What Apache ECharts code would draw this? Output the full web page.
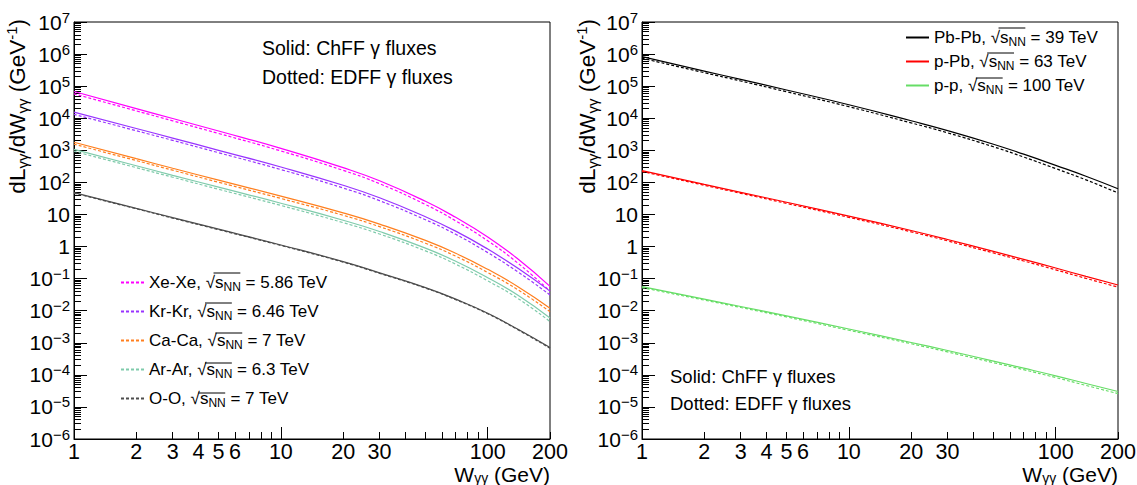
<!DOCTYPE html>
<html>
<head>
<meta charset="utf-8">
<script src="https://cdn.jsdelivr.net/npm/echarts@6.0.0/dist/echarts.min.js"></script>
<style>
html,body{margin:0;padding:0;background:#ffffff;}
#chart{width:1137px;height:485px;}
</style>
</head>
<body>
<div id="chart"></div>
<script>
// Photon-photon invariant mass W (GeV) sample points
const W = [1, 2, 3, 5, 10, 20, 30, 50, 70, 100, 140, 200];

// Left panel (solid = ChFF, dotted = EDFF), dL/dW in GeV^-1
const xeXeChFF = [6.8e4, 2.0e4, 9.8e3, 4.0e3, 1.15e3, 288, 112, 25.7, 8.13, 2.0, 0.407, 0.0575];
const xeXeEDFF = [5.75e4, 1.7e4, 8.3e3, 3.35e3, 955, 237, 91.2, 20.4, 6.31, 1.51, 0.302, 0.0407];
const krKrChFF = [1.55e4, 4.79e3, 2.40e3, 1.0e3, 302, 81.3, 33.1, 8.51, 3.02, 0.832, 0.209, 0.0407];
const krKrEDFF = [1.32e4, 4.07e3, 2.04e3, 841, 251, 66.8, 26.9, 6.84, 2.40, 0.646, 0.162, 0.0309];
const caCaChFF = [1.78e3, 550, 275, 117, 37.2, 11.2, 5.01, 1.55, 0.617, 0.195, 0.0562, 0.0120];
const caCaEDFF = [1.55e3, 479, 240, 101, 31.6, 9.44, 4.17, 1.27, 0.501, 0.155, 0.0447, 0.00933];
const arArChFF = [1.07e3, 331, 166, 70.8, 22.4, 6.61, 2.95, 0.891, 0.347, 0.107, 0.0302, 0.00589];
const arArEDFF = [933, 288, 145, 61.0, 19.1, 5.56, 2.45, 0.733, 0.282, 0.0851, 0.0240, 0.00457];
const oOChFF = [47.9, 15.5, 7.94, 3.47, 1.12, 0.339, 0.151, 0.0525, 0.0229, 0.00832, 0.00263, 0.000708];
const oOEDFF = [46.2, 15.0, 7.67, 3.35, 1.08, 0.327, 0.146, 0.0507, 0.0221, 0.00804, 0.00254, 0.000676];

// Right panel
const pbPbChFF = [8.32e5, 2.95e5, 1.62e5, 7.59e4, 2.63e4, 8.32e3, 4.12e3, 1.55e3, 759, 339, 155, 63.1];
const pbPbEDFF = [7.41e5, 2.63e5, 1.45e5, 6.68e4, 2.29e4, 7.16e3, 3.51e3, 1.29e3, 617, 269, 120, 46.8];
const pPbChFF = [234, 87.1, 49.0, 24.0, 8.91, 3.16, 1.66, 0.708, 0.398, 0.214, 0.117, 0.0631];
const pPbEDFF = [219, 81.3, 45.7, 22.1, 8.13, 2.88, 1.50, 0.631, 0.355, 0.188, 0.102, 0.0543];
const ppChFF = [0.0562, 0.0229, 0.0135, 0.00692, 0.00269, 0.00102, 5.75e-4, 2.69e-4, 1.62e-4, 9.33e-5, 5.37e-5, 3.02e-5];
const ppEDFF = [0.0525, 0.0214, 0.0126, 0.00638, 0.00245, 9.33e-4, 5.19e-4, 2.40e-4, 1.45e-4, 8.22e-5, 4.68e-5, 2.60e-5];

const leftNames = ['Xe-Xe', 'Kr-Kr', 'Ca-Ca', 'Ar-Ar', 'O-O'];
const leftEnergies = ['5.86', '6.46', '7', '6.3', '7'];
const leftColors = ['#ff00ff', '#9933ff', '#ff7f1e', '#7fcbab', '#4d4d4d'];
const leftChFF = [xeXeChFF, krKrChFF, caCaChFF, arArChFF, oOChFF];
const leftEDFF = [xeXeEDFF, krKrEDFF, caCaEDFF, arArEDFF, oOEDFF];

const rightNames = ['Pb-Pb', 'p-Pb', 'p-p'];
const rightEnergies = ['39', '63', '100'];
const rightColors = ['#000000', '#ff0000', '#66dd66'];
const rightChFF = [pbPbChFF, pPbChFF, ppChFF];
const rightEDFF = [pbPbEDFF, pPbEDFF, ppEDFF];

// Axis ticks / labels
const xTickValues = [1, 2, 3, 4, 5, 6, 7, 8, 9, 10, 20, 30, 40, 50, 60, 70, 80, 90, 100, 200];
const xMajorTickValues = [1, 10, 100];
const xLabelValues = [1, 2, 3, 4, 5, 6, 10, 20, 30, 100, 200];
const yDecades = [1e-6, 1e-5, 1e-4, 1e-3, 1e-2, 1e-1, 1, 10, 1e2, 1e3, 1e4, 1e5, 1e6, 1e7];
const yMinorTickValues = [];
yDecades.forEach(function (d) {
  if (d < 1e7) { for (let k = 2; k <= 9; k++) yMinorTickValues.push(+(d * k).toPrecision(3)); }
});

const FONT = 'Liberation Sans';
const GRID_LEFT = [74, 642];

function xAxesFor(gi) {
  return [{
    type: 'log', logBase: 10, min: 1, max: 200, gridIndex: gi, position: 'bottom',
    axisLine: { show: true, lineStyle: { color: '#000', width: 1 } },
    axisTick: { show: true, inside: true, length: 7, customValues: xTickValues, lineStyle: { color: '#000', width: 1 } },
    axisLabel: { show: true, customValues: xLabelValues, margin: 3, color: '#000', fontSize: 21.5, fontFamily: FONT,
      lineHeight: 20,
      formatter: function (v) { return String(Math.round(v)); } },
    splitLine: { show: false }, minorTick: { show: false }
  }, {
    type: 'log', logBase: 10, min: 1, max: 200, gridIndex: gi, position: 'bottom',
    axisLine: { show: false },
    axisTick: { show: true, inside: true, length: 12, customValues: xMajorTickValues, lineStyle: { color: '#000', width: 1 } },
    axisLabel: { show: false }, splitLine: { show: false }
  }];
}
function yLabel(v) {
  const e = Math.round(Math.log10(v));
  if (e === 0) return '1';
  if (e === 1) return '10';
  return '{b|10}{p|' + (e < 0 ? '\u2212' + (-e) : String(e)) + '}';
}
function yAxesFor(gi) {
  return [{
    type: 'log', logBase: 10, min: 1e-6, max: 1e7, gridIndex: gi, position: 'left',
    axisLine: { show: true, lineStyle: { color: '#000', width: 1 } },
    axisTick: { show: true, inside: true, length: 7, customValues: yMinorTickValues, lineStyle: { color: '#000', width: 1 } },
    axisLabel: { show: true, customValues: yDecades, margin: 4, color: '#000', fontSize: 21, fontFamily: FONT,
      formatter: yLabel,
      rich: {
        b: { fontSize: 21, fontFamily: FONT, color: '#000' },
        p: { fontSize: 15, fontFamily: FONT, color: '#000', padding: [0, 0, 10, 0] }
      } },
    splitLine: { show: false }, minorTick: { show: false }
  }, {
    type: 'log', logBase: 10, min: 1e-6, max: 1e7, gridIndex: gi, position: 'left',
    axisLine: { show: false },
    axisTick: { show: true, inside: true, length: 13, customValues: yDecades, lineStyle: { color: '#000', width: 1 } },
    axisLabel: { show: false }, splitLine: { show: false }
  }];
}

const series = [];
function addPair(names, chff, edff, colors, axisIdx, suffixSolid, suffixDash) {
  names.forEach(function (n, i) {
    series.push({
      name: n + suffixSolid, type: 'line', xAxisIndex: axisIdx, yAxisIndex: axisIdx,
      data: W.map(function (w, j) { return [w, chff[i][j]]; }),
      showSymbol: false, symbol: 'circle', smooth: 0.5, silent: true,
      lineStyle: { color: colors[i], width: 1.2, type: 'solid' }, itemStyle: { color: colors[i] }
    });
    series.push({
      name: n + suffixDash, type: 'line', xAxisIndex: axisIdx, yAxisIndex: axisIdx,
      data: W.map(function (w, j) { return [w, edff[i][j]]; }),
      showSymbol: false, symbol: 'circle', smooth: 0.5, silent: true,
      lineStyle: { color: colors[i], width: 1.2, type: [3, 2] }, itemStyle: { color: colors[i] }
    });
  });
}
addPair(leftNames, leftChFF, leftEDFF, leftColors, 0, ' ChFF', '');
addPair(rightNames, rightChFF, rightEDFF, rightColors, 2, '', ' EDFF');

function legendLabel(name, energy) {
  return '{t|' + name + ', }{r|\u221A}{s|s}{n|NN}{t| = ' + energy + ' TeV}';
}
const legendRich = {
  t: { fontSize: 17, fontFamily: FONT, color: '#000', lineHeight: 22 },
  r: { fontSize: 17, fontFamily: FONT, color: '#000', lineHeight: 22 },
  s: { fontSize: 17, fontFamily: FONT, color: '#000', lineHeight: 22 },
  n: { fontSize: 12, fontFamily: FONT, color: '#000', lineHeight: 12, padding: [9, 0, 0, 0] }
};
const LEG = [
  { left: 120, top: 272, gap: 8, names: leftNames, energies: leftEnergies },
  { left: 905, top: 27, gap: 3, names: rightNames, energies: rightEnergies }
];
const legends = LEG.map(function (L) {
  return {
    data: L.names, orient: 'vertical', left: L.left, top: L.top, itemWidth: 23, itemHeight: 14,
    itemGap: L.gap, selectedMode: false, padding: 0,
    itemStyle: { color: 'rgba(0,0,0,0)', borderColor: 'rgba(0,0,0,0)', borderWidth: 0, opacity: 0 },
    formatter: function (name) { return legendLabel(name, L.energies[L.names.indexOf(name)]); },
    textStyle: { fontSize: 17, fontFamily: FONT, color: '#000', rich: legendRich }
  };
});

// overline of the square root in legend labels
const mctx = document.createElement('canvas').getContext('2d');
function tw(s, size) { mctx.font = size + 'px "' + FONT + '"'; return mctx.measureText(s).width; }
const graphics = [];
LEG.forEach(function (L) {
  L.names.forEach(function (n, i) {
    const tx = L.left + 23 + 5;
    const cy = L.top + 11 + i * (22 + L.gap);
    const x0 = tx + tw(n + ', ', 17) + tw('\u221A', 17) - 0.5;
    const x1 = x0 + tw('s', 17) + tw('NN', 12) + 1;
    graphics.push({ type: 'line', silent: true, shape: { x1: x0, y1: cy - 10, x2: x1, y2: cy - 10 },
      style: { stroke: '#000', lineWidth: 1 } });
  });
});

const titleRich = {
  m: { fontSize: 22.5, fontFamily: FONT, color: '#000' },
  s: { fontSize: 15, fontFamily: FONT, color: '#000', padding: [10, 0, 0, 0] },
  p: { fontSize: 15, fontFamily: FONT, color: '#000', padding: [0, 0, 12, 0] }
};
const xRich = {
  m: { fontSize: 21, fontFamily: FONT, color: '#000', lineHeight: 21 },
  s: { fontSize: 14, fontFamily: FONT, color: '#000', lineHeight: 14, padding: [8, 0, 0, 0] }
};
const yTitle = '{m|dL}{s|\u03B3\u03B3}{m|/dW}{s|\u03B3\u03B3}{m| (GeV}{p|-1}{m|)}';
const xTitle = '{m|W}{s|\u03B3\u03B3}{m| (GeV)}';
[17, 587].forEach(function (x) {
  graphics.push({ type: 'text', x: x, y: 19, rotation: Math.PI / 2, silent: true,
    style: { text: yTitle, rich: titleRich, align: 'right', verticalAlign: 'middle', fill: '#000' } });
});
[550, 1118].forEach(function (x) {
  graphics.push({ type: 'text', x: x, y: 474, silent: true,
    style: { text: xTitle, rich: xRich, align: 'right', verticalAlign: 'middle', fill: '#000' } });
});
const notes = [
  { x: 262, y: 48, size: 19.5, text: 'Solid: ChFF \u03B3 fluxes' },
  { x: 262, y: 77, size: 19.5, text: 'Dotted: EDFF \u03B3 fluxes' },
  { x: 670, y: 376, size: 18.5, text: 'Solid: ChFF \u03B3 fluxes' },
  { x: 670, y: 403, size: 18.5, text: 'Dotted: EDFF \u03B3 fluxes' }
];
notes.forEach(function (t) {
  graphics.push({ type: 'text', x: t.x, y: t.y, silent: true,
    style: { text: t.text, fontSize: t.size, fontFamily: FONT, fill: '#000', align: 'left', verticalAlign: 'middle' } });
});

const chart = echarts.init(document.getElementById('chart'), null, { renderer: 'svg' });
chart.setOption({
  animation: false,
  backgroundColor: '#ffffff',
  grid: GRID_LEFT.map(function (l) {
    return { left: l, top: 22, width: 476, height: 417, show: true, borderColor: '#000', borderWidth: 1,
      backgroundColor: 'transparent', containLabel: false, outerBoundsMode: 'none' };
  }),
  xAxis: xAxesFor(0).concat(xAxesFor(1)),
  yAxis: yAxesFor(0).concat(yAxesFor(1)),
  legend: legends,
  tooltip: { show: false },
  series: series,
  graphic: { elements: graphics }
});
</script>
</body>
</html>
